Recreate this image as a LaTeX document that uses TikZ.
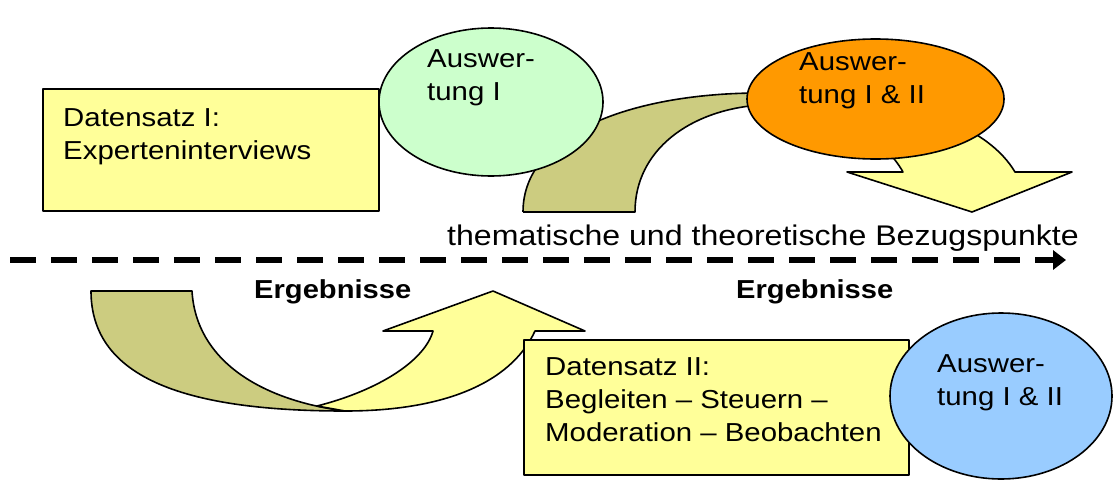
\documentclass[tikz,border=0pt]{standalone}
\usepackage{fontspec}
\setmainfont{Liberation Sans}
\usetikzlibrary{shapes.geometric,arrows.meta}

\definecolor{gelb}{RGB}{255,255,153}
\definecolor{oliv}{RGB}{204,204,128}
\definecolor{gruen}{RGB}{204,255,204}
\definecolor{ausworange}{RGB}{255,153,0}
\definecolor{blau}{RGB}{153,204,255}

\tikzset{
  rand/.style={draw=black, line width=1.6pt, line join=round},
  kasten/.style={rand, fill=gelb, rectangle, anchor=north west, inner sep=0pt},
  oval/.style={rand, ellipse, inner sep=0pt},
  txt/.style={font=\fontsize{26}{33}\selectfont, align=left, inner sep=0pt,
    anchor=north west, xscale=1.13},
  erg/.style={font=\fontsize{26}{30}\selectfont\bfseries, inner sep=0pt,
    anchor=base west, xscale=1.12}
}

\begin{document}
\begin{tikzpicture}[x=1pt,y=-1pt]
\useasboundingbox[fill=white] (0,0) rectangle (1116,482);

% oberer Bogenpfeil (Rueckseite, dann Vorderseite)
\fill[oliv] (523,212) -- (635,212) .. controls (635,150) and (690,110) .. (760,105)
  -- (760,93) .. controls (640,93) and (523,130) .. cycle;
\draw[rand] (523,212) -- (635,212) .. controls (635,150) and (690,110) .. (760,105)
  (760,93) .. controls (640,93) and (523,130) .. (523,212);
\draw[rand, fill=gelb] (760,93) .. controls (920,93) and (990,130) .. (1015,172)
  -- (1072,172) -- (972,212) -- (847,172) -- (903,172)
  .. controls (885,140) and (840,108) .. (760,105) -- cycle;

% Datensatz I
\node[kasten, minimum width=336pt, minimum height=122pt] (ds1) at (42,88) {};
\node[txt] (ds1text) at (63,108.5) {Datensatz I:\\Experteninterviews};

% Auswertung I
\node[oval, fill=gruen, minimum width=224pt, minimum height=148pt] (ausw1) at (491,102) {};
\node[txt] (ausw1text) at (427,49.5) {Auswer-\\tung I};

% Auswertung I & II (oben)
\node[oval, fill=ausworange, minimum width=257pt, minimum height=120pt] (ausw2) at (875.5,99) {};
\node[txt] (ausw2text) at (799,52.5) {Auswer-\\tung I \& II};

% Zeitachse
\coordinate (start) at (10,260);
\coordinate (ende) at (1066,260);
\draw[line width=6.5pt, dash pattern=on 26pt off 15pt, -{Triangle[length=13pt,width=19pt]}]
  (start) -- (ende);
\node[font=\fontsize{28.4}{34}\selectfont, inner sep=0pt, anchor=base west, xscale=1.13]
  (bezug) at (447,245) {thematische und theoretische Bezugspunkte};
\node[erg] (erg1) at (254,298) {Ergebnisse};
\node[erg] (erg2) at (736,298) {Ergebnisse};

% unterer Bogenpfeil
\draw[rand, fill=oliv] (91,291) -- (192,291) .. controls (196,360) and (260,400) .. (345,411)
  .. controls (190,411) and (91,380) .. cycle;
\draw[rand, fill=gelb] (317,406) .. controls (380,390) and (425,360) .. (433,331)
  -- (383,331) -- (493,291) -- (585,331) -- (535,331)
  .. controls (510,385) and (440,411) .. (345,411) -- cycle;

% Datensatz II
\node[kasten, minimum width=385pt, minimum height=135pt] (ds2) at (523,339) {};
\node[txt] (ds2text) at (545,357.5) {Datensatz II:\\Begleiten -- Steuern --\\Moderation -- Beobachten};

% Auswertung I & II (unten)
\node[oval, fill=blau, minimum width=222pt, minimum height=166pt] (ausw3) at (1001,396) {};
\node[txt] (ausw3text) at (937,354.5) {Auswer-\\tung I \& II};
\end{tikzpicture}
\end{document}
